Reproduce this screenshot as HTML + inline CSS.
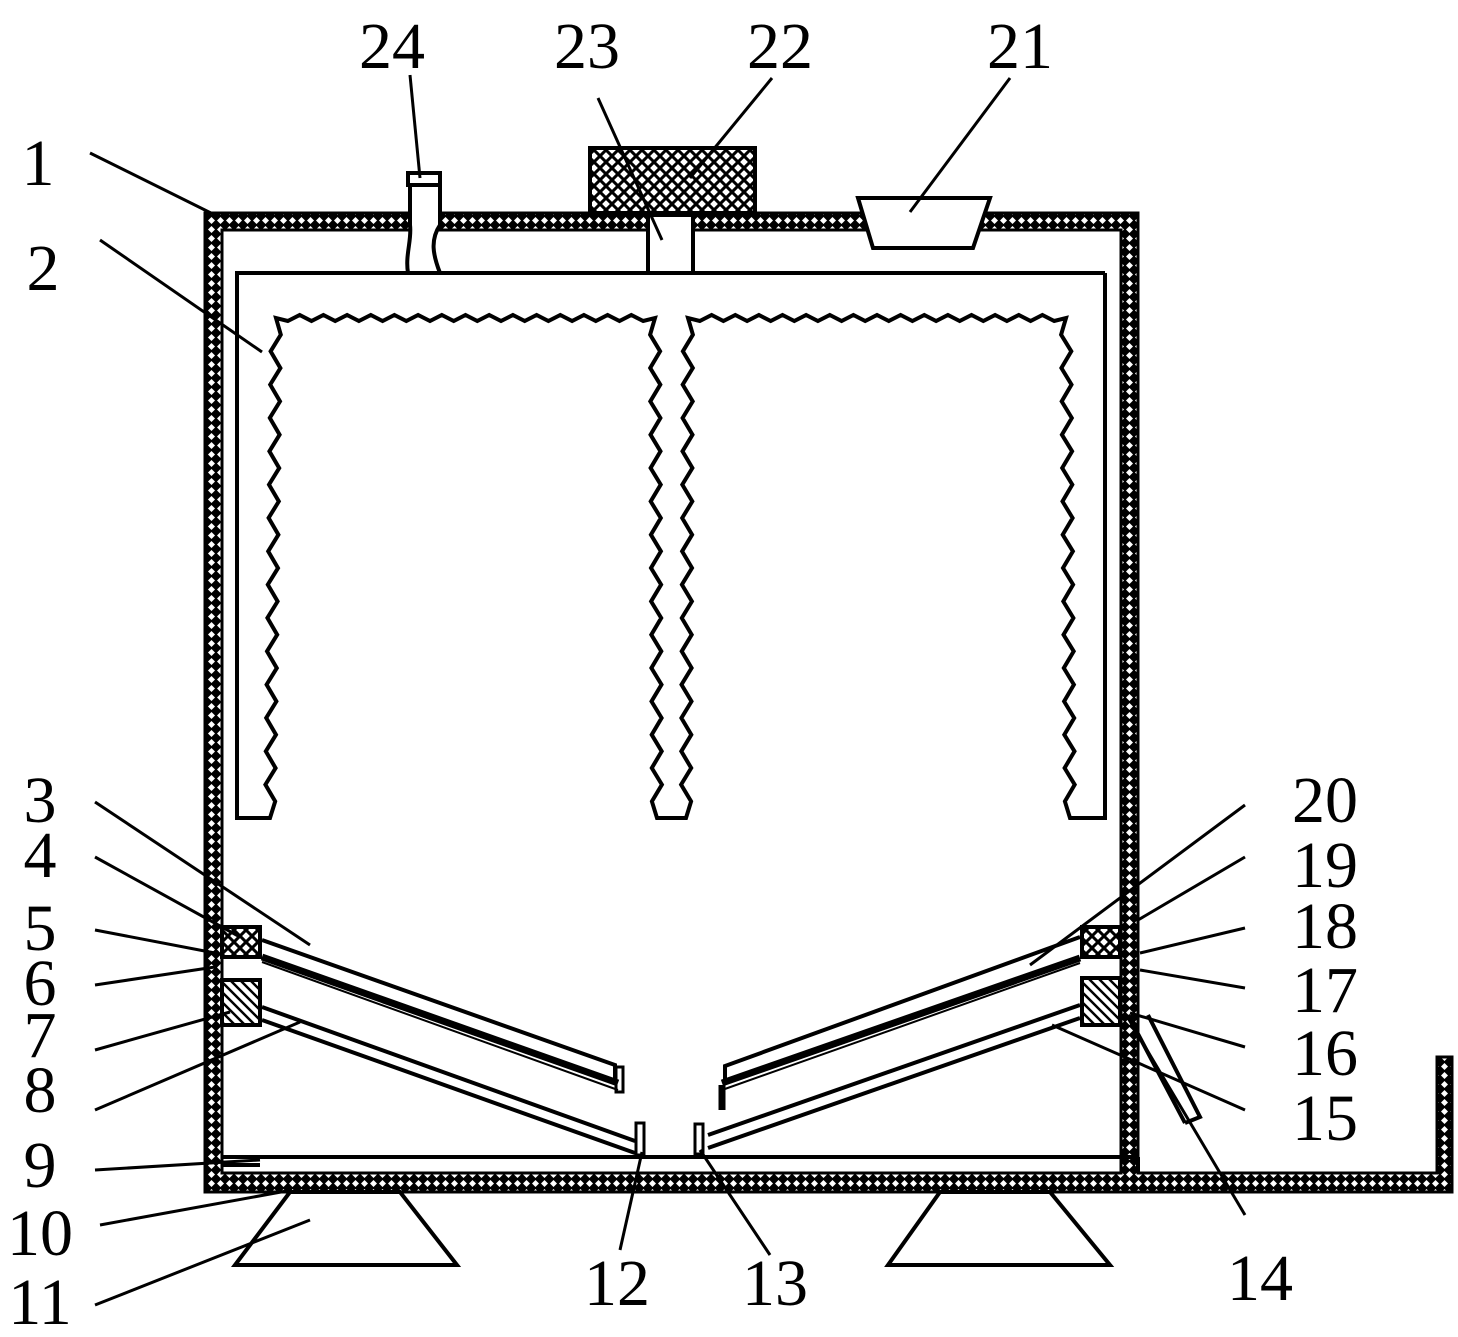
<!DOCTYPE html>
<html><head><meta charset="utf-8"><style>
html,body{margin:0;padding:0;background:#fff}
svg{display:block}
text{font-family:"Liberation Serif",serif;font-size:66px;fill:#000}
</style></head><body>
<svg id="s" width="1458" height="1337" viewBox="0 0 1458 1337" xmlns="http://www.w3.org/2000/svg">
<defs>
<pattern id="xh" width="9" height="9" patternUnits="userSpaceOnUse">
<rect width="9" height="9" fill="#000"/>
<path d="M4.5 1 L8 4.5 L4.5 8 L1 4.5Z" fill="#fff"/>
</pattern>
<pattern id="cx" width="12" height="12" patternUnits="userSpaceOnUse">
<rect width="12" height="12" fill="#fff"/>
<path d="M0 0L12 12M12 0L0 12" stroke="#000" stroke-width="3"/>
</pattern>
<pattern id="dg" width="10" height="10" patternUnits="userSpaceOnUse">
<rect width="10" height="10" fill="#fff"/>
<path d="M-2 -2L12 12M-2 8L2 12M8 -2L12 2" stroke="#000" stroke-width="2.5"/>
</pattern>
</defs>
<g fill="none" stroke="#000" stroke-width="4">
<path d="M205 213 H1138 V1173 H1437 V1057 H1452 V1192 H205 Z M222 230 V1173 H1121 V230 Z" fill="url(#xh)" fill-rule="evenodd" stroke-width="3"/>
<rect x="590" y="148" width="165" height="65" fill="url(#cx)"/>
<rect x="648" y="215" width="45" height="58" fill="#fff"/>
<path d="M408 273 C405 255,412 240,410 225 L410 185 L440 185 L440 225 C430 240,433 255,440 273" fill="#fff"/>
<rect x="408" y="173" width="32" height="12" fill="#fff"/>
<path d="M858 198 H990 L973 248 H873 Z" fill="#fff"/>
<path id="frame" d=""/>
<path d="M222 1157 H1138 M1138 1157 V1172 M222 1165 H260"/>
<rect x="222" y="927" width="38" height="30" fill="url(#cx)"/>
<rect x="222" y="980" width="38" height="45" fill="url(#dg)"/>
<rect x="1082" y="927" width="38" height="30" fill="url(#cx)"/>
<rect x="1082" y="978" width="38" height="47" fill="url(#dg)"/>
<path d="M262 940 L615 1065 V1085"/>
<path d="M262 957 L618 1083" stroke-width="7"/>
<path d="M262 962 L618 1090" stroke-width="2"/>
<path d="M262 1007 L635 1141"/>
<path d="M262 1020 L635 1153"/>
<rect x="616" y="1067" width="7" height="25" stroke-width="3"/>
<rect x="636" y="1123" width="8" height="32" stroke-width="3"/>
<path d="M1080 937 L725 1066 V1085"/>
<path d="M1080 958 L722 1083" stroke-width="7"/>
<path d="M1080 963 L722 1090" stroke-width="2"/>
<path d="M1080 1005 L708 1135"/>
<path d="M1080 1018 L708 1148"/>
<path d="M722 1085 V1110" stroke-width="7"/>
<rect x="695" y="1124" width="8" height="30" stroke-width="3"/>
<path d="M1128 1015 L1185 1123 M1148 1015 L1200 1117 L1185 1123"/>
<path d="M290 1192 H400 L457 1265 H235 Z" fill="#fff"/>
<path d="M940 1192 H1050 L1110 1265 H888 Z" fill="#fff"/>
<g stroke-width="3">
<path d="M90 153 L215 215"/>
<path d="M100 240 L262 352"/>
<path d="M410 75 L420 178"/>
<path d="M598 98 L662 240"/>
<path d="M772 78 L690 178"/>
<path d="M1010 78 L910 212"/>
<path d="M95 802 L310 945"/>
<path d="M95 857 L240 937"/>
<path d="M95 930 L215 953"/>
<path d="M95 985 L215 967"/>
<path d="M95 1050 L230 1012"/>
<path d="M95 1110 L300 1022"/>
<path d="M95 1170 L260 1160"/>
<path d="M100 1225 L292 1190"/>
<path d="M95 1305 L310 1220"/>
<path d="M620 1250 L642 1152"/>
<path d="M770 1255 L700 1150"/>
<path d="M1245 1215 L1128 1018"/>
<path d="M1245 1110 L1052 1025"/>
<path d="M1245 1047 L1130 1013"/>
<path d="M1245 988 L1140 970"/>
<path d="M1245 928 L1140 953"/>
<path d="M1245 857 L1138 920"/>
<path d="M1245 805 L1030 965"/>
</g>
</g>
<g text-anchor="middle">
<text x="392" y="68">24</text><text x="587" y="68">23</text><text x="780" y="68">22</text><text x="1020" y="68">21</text>
<text x="38" y="185">1</text><text x="43" y="290">2</text>
<text x="40" y="822">3</text><text x="40" y="877">4</text><text x="40" y="950">5</text><text x="40" y="1005">6</text>
<text x="40" y="1057">7</text><text x="40" y="1112">8</text><text x="40" y="1187">9</text><text x="40" y="1255">10</text><text x="40" y="1324">11</text>
<text x="617" y="1305">12</text><text x="775" y="1305">13</text><text x="1260" y="1300">14</text>
<text x="1325" y="1140">15</text><text x="1325" y="1075">16</text><text x="1325" y="1012">17</text><text x="1325" y="948">18</text><text x="1325" y="887">19</text><text x="1325" y="822">20</text>
</g>
</svg>
<script>
function zz(x1,y1,x2,y2,amp,per){var dx=x2-x1,dy=y2-y1,L=Math.hypot(dx,dy),n=Math.max(1,Math.round(L/per)),ux=dx/L,uy=dy/L,px=-uy,py=ux,s="";
for(var i=1;i<=n*2;i++){var t=i/(n*2);var a=(i%2?amp:-amp)*(i==n*2?0:1);s+=" L"+(x1+dx*t+px*a).toFixed(1)+" "+(y1+dy*t+py*a).toFixed(1);}return s;}
var d="M1105 273 H693 M648 273 H237 V818 H270";
d+=zz(270,818,276,318,5,34);
d+=zz(276,318,655,318,3,24);
d+=zz(655,318,657,818,5,34)+" L686 818";
d+=zz(686,818,688,318,5,34);
d+=zz(688,318,1066,318,3,24);
d+=zz(1066,318,1070,818,5,34)+" L1105 818 V273";
document.getElementById("frame").setAttribute("d",d);
</script>
</body></html>
